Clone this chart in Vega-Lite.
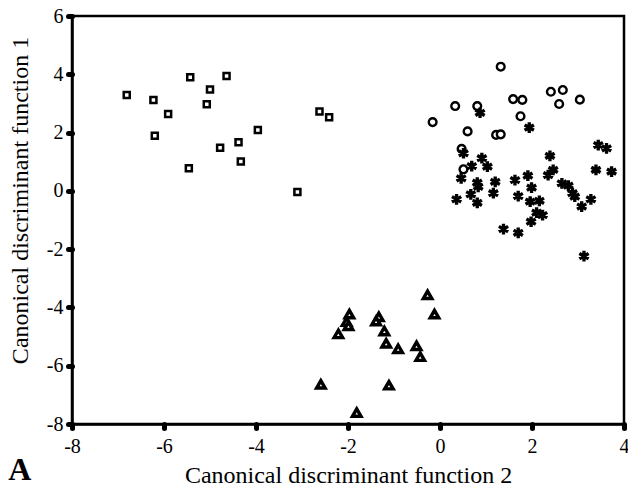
{
  "$schema": "https://vega.github.io/schema/vega-lite/v6.json",
  "width": 552,
  "height": 408,
  "autosize": {"type": "none"},
  "padding": {"left": 72, "top": 16, "right": 4, "bottom": 66},
  "background": "white",
  "config": {
    "font": "Liberation Serif",
    "view": {"stroke": "black", "strokeWidth": 2.5},
    "axis": {
      "domainColor": "black", "domainWidth": 2.5,
      "tickColor": "black", "tickWidth": 5, "tickSize": 4, "tickCap": "round",
      "labelFont": "Liberation Serif", "labelFontSize": 20, "labelColor": "black",
      "titleFont": "Liberation Serif", "titleFontSize": 24, "titleFontWeight": "normal", "titleColor": "black",
      "grid": false
    }
  },
  "title": {
    "text": "A", "orient": "bottom", "anchor": "start", "frame": "bounds",
    "font": "Liberation Serif", "fontSize": 32, "fontWeight": "bold", "color": "black",
    "offset": -32
  },
  "data": {
    "values": [
      {"f2": -6.81, "f1": 3.29, "group": "sq"},
      {"f2": -6.23, "f1": 3.12, "group": "sq"},
      {"f2": -5.43, "f1": 3.90, "group": "sq"},
      {"f2": -4.64, "f1": 3.94, "group": "sq"},
      {"f2": -5.00, "f1": 3.48, "group": "sq"},
      {"f2": -5.07, "f1": 2.97, "group": "sq"},
      {"f2": -5.91, "f1": 2.64, "group": "sq"},
      {"f2": -6.20, "f1": 1.89, "group": "sq"},
      {"f2": -4.78, "f1": 1.48, "group": "sq"},
      {"f2": -4.38, "f1": 1.67, "group": "sq"},
      {"f2": -3.96, "f1": 2.09, "group": "sq"},
      {"f2": -4.33, "f1": 1.01, "group": "sq"},
      {"f2": -5.46, "f1": 0.78, "group": "sq"},
      {"f2": -2.62, "f1": 2.72, "group": "sq"},
      {"f2": -2.41, "f1": 2.53, "group": "sq"},
      {"f2": -3.10, "f1": -0.04, "group": "sq"},

      {"f2": 1.32, "f1": 4.26, "group": "ci"},
      {"f2": 0.33, "f1": 2.91, "group": "ci"},
      {"f2": 0.81, "f1": 2.91, "group": "ci"},
      {"f2": -0.16, "f1": 2.36, "group": "ci"},
      {"f2": 0.60, "f1": 2.04, "group": "ci"},
      {"f2": 1.59, "f1": 3.15, "group": "ci"},
      {"f2": 1.79, "f1": 3.12, "group": "ci"},
      {"f2": 2.41, "f1": 3.40, "group": "ci"},
      {"f2": 2.67, "f1": 3.46, "group": "ci"},
      {"f2": 2.59, "f1": 2.98, "group": "ci"},
      {"f2": 3.04, "f1": 3.13, "group": "ci"},
      {"f2": 1.75, "f1": 2.56, "group": "ci"},
      {"f2": 1.22, "f1": 1.92, "group": "ci"},
      {"f2": 1.32, "f1": 1.94, "group": "ci"},
      {"f2": 0.47, "f1": 1.44, "group": "ci"},
      {"f2": 0.51, "f1": 0.74, "group": "ci"},

      {"f2": 0.87, "f1": 2.68, "group": "st"},
      {"f2": 1.94, "f1": 2.17, "group": "st"},
      {"f2": 3.44, "f1": 1.57, "group": "st"},
      {"f2": 3.62, "f1": 1.46, "group": "st"},
      {"f2": 2.39, "f1": 1.20, "group": "st"},
      {"f2": 0.51, "f1": 1.29, "group": "st"},
      {"f2": 0.91, "f1": 1.12, "group": "st"},
      {"f2": 1.03, "f1": 0.83, "group": "st"},
      {"f2": 0.69, "f1": 0.85, "group": "st"},
      {"f2": 0.46, "f1": 0.43, "group": "st"},
      {"f2": 0.81, "f1": 0.28, "group": "st"},
      {"f2": 0.83, "f1": 0.14, "group": "st"},
      {"f2": 1.20, "f1": 0.31, "group": "st"},
      {"f2": 1.16, "f1": -0.08, "group": "st"},
      {"f2": 0.67, "f1": -0.12, "group": "st"},
      {"f2": 0.36, "f1": -0.29, "group": "st"},
      {"f2": 0.81, "f1": -0.41, "group": "st"},
      {"f2": 1.63, "f1": 0.37, "group": "st"},
      {"f2": 1.91, "f1": 0.52, "group": "st"},
      {"f2": 1.99, "f1": 0.11, "group": "st"},
      {"f2": 1.70, "f1": -0.18, "group": "st"},
      {"f2": 1.96, "f1": -0.37, "group": "st"},
      {"f2": 2.16, "f1": -0.34, "group": "st"},
      {"f2": 2.10, "f1": -0.75, "group": "st"},
      {"f2": 2.23, "f1": -0.83, "group": "st"},
      {"f2": 1.98, "f1": -1.06, "group": "st"},
      {"f2": 1.38, "f1": -1.31, "group": "st"},
      {"f2": 1.70, "f1": -1.44, "group": "st"},
      {"f2": 2.46, "f1": 0.72, "group": "st"},
      {"f2": 2.35, "f1": 0.54, "group": "st"},
      {"f2": 2.65, "f1": 0.26, "group": "st"},
      {"f2": 2.79, "f1": 0.18, "group": "st"},
      {"f2": 2.88, "f1": -0.08, "group": "st"},
      {"f2": 2.93, "f1": -0.20, "group": "st"},
      {"f2": 3.28, "f1": -0.29, "group": "st"},
      {"f2": 3.08, "f1": -0.54, "group": "st"},
      {"f2": 3.39, "f1": 0.72, "group": "st"},
      {"f2": 3.73, "f1": 0.66, "group": "st"},
      {"f2": 3.13, "f1": -2.24, "group": "st"},

      {"f2": -0.27, "f1": -3.57, "group": "tr"},
      {"f2": -0.12, "f1": -4.23, "group": "tr"},
      {"f2": -1.97, "f1": -4.23, "group": "tr"},
      {"f2": -2.03, "f1": -4.49, "group": "tr"},
      {"f2": -1.99, "f1": -4.63, "group": "tr"},
      {"f2": -2.21, "f1": -4.91, "group": "tr"},
      {"f2": -1.33, "f1": -4.32, "group": "tr"},
      {"f2": -1.39, "f1": -4.47, "group": "tr"},
      {"f2": -1.21, "f1": -4.81, "group": "tr"},
      {"f2": -1.17, "f1": -5.23, "group": "tr"},
      {"f2": -0.91, "f1": -5.42, "group": "tr"},
      {"f2": -0.51, "f1": -5.32, "group": "tr"},
      {"f2": -0.43, "f1": -5.69, "group": "tr"},
      {"f2": -2.59, "f1": -6.64, "group": "tr"},
      {"f2": -1.11, "f1": -6.67, "group": "tr"},
      {"f2": -1.81, "f1": -7.61, "group": "tr"}
    ]
  },
  "encoding": {
    "x": {
      "field": "f2", "type": "quantitative",
      "scale": {"domain": [-8, 4], "nice": false, "zero": false},
      "axis": {"values": [-8, -6, -4, -2, 0, 2, 4], "labelExpr": "'' + datum.value", "title": "Canonical discriminant function 2", "labelPadding": 8, "titlePadding": 7, "labelFlush": false}
    },
    "y": {
      "field": "f1", "type": "quantitative",
      "scale": {"domain": [-8, 6], "nice": false, "zero": false},
      "axis": {"values": [-8, -6, -4, -2, 0, 2, 4, 6], "labelExpr": "'' + datum.value", "title": "Canonical discriminant function 1", "labelPadding": 5, "titlePadding": 14, "titleY": 184, "labelFlush": false}
    }
  },
  "layer": [
    {
      "transform": [{"filter": "datum.group === 'sq'"}],
      "mark": {"type": "point", "shape": "square", "filled": false, "fill": "white", "stroke": "black", "strokeWidth": 2.5, "size": 36, "opacity": 1}
    },
    {
      "transform": [{"filter": "datum.group === 'ci'"}],
      "mark": {"type": "point", "shape": "circle", "filled": false, "fill": "white", "stroke": "black", "strokeWidth": 2.4, "size": 60, "opacity": 1}
    },
    {
      "transform": [{"filter": "datum.group === 'st'"}],
      "mark": {"type": "point", "shape": "M-0.2,-1L-0.2,1L0.2,1L0.2,-1ZM-0.966,-0.327L-0.766,-0.673L0.966,0.327L0.766,0.673ZM-0.766,0.673L-0.966,0.327L0.766,-0.673L0.966,-0.327Z", "filled": true, "fill": "black", "stroke": "black", "strokeWidth": 1.5, "size": 85, "opacity": 1}
    },
    {
      "transform": [{"filter": "datum.group === 'tr'"}],
      "mark": {"type": "point", "shape": "triangle-up", "filled": false, "fill": "white", "stroke": "black", "strokeWidth": 3.4, "size": 72, "opacity": 1}
    }
  ]
}
